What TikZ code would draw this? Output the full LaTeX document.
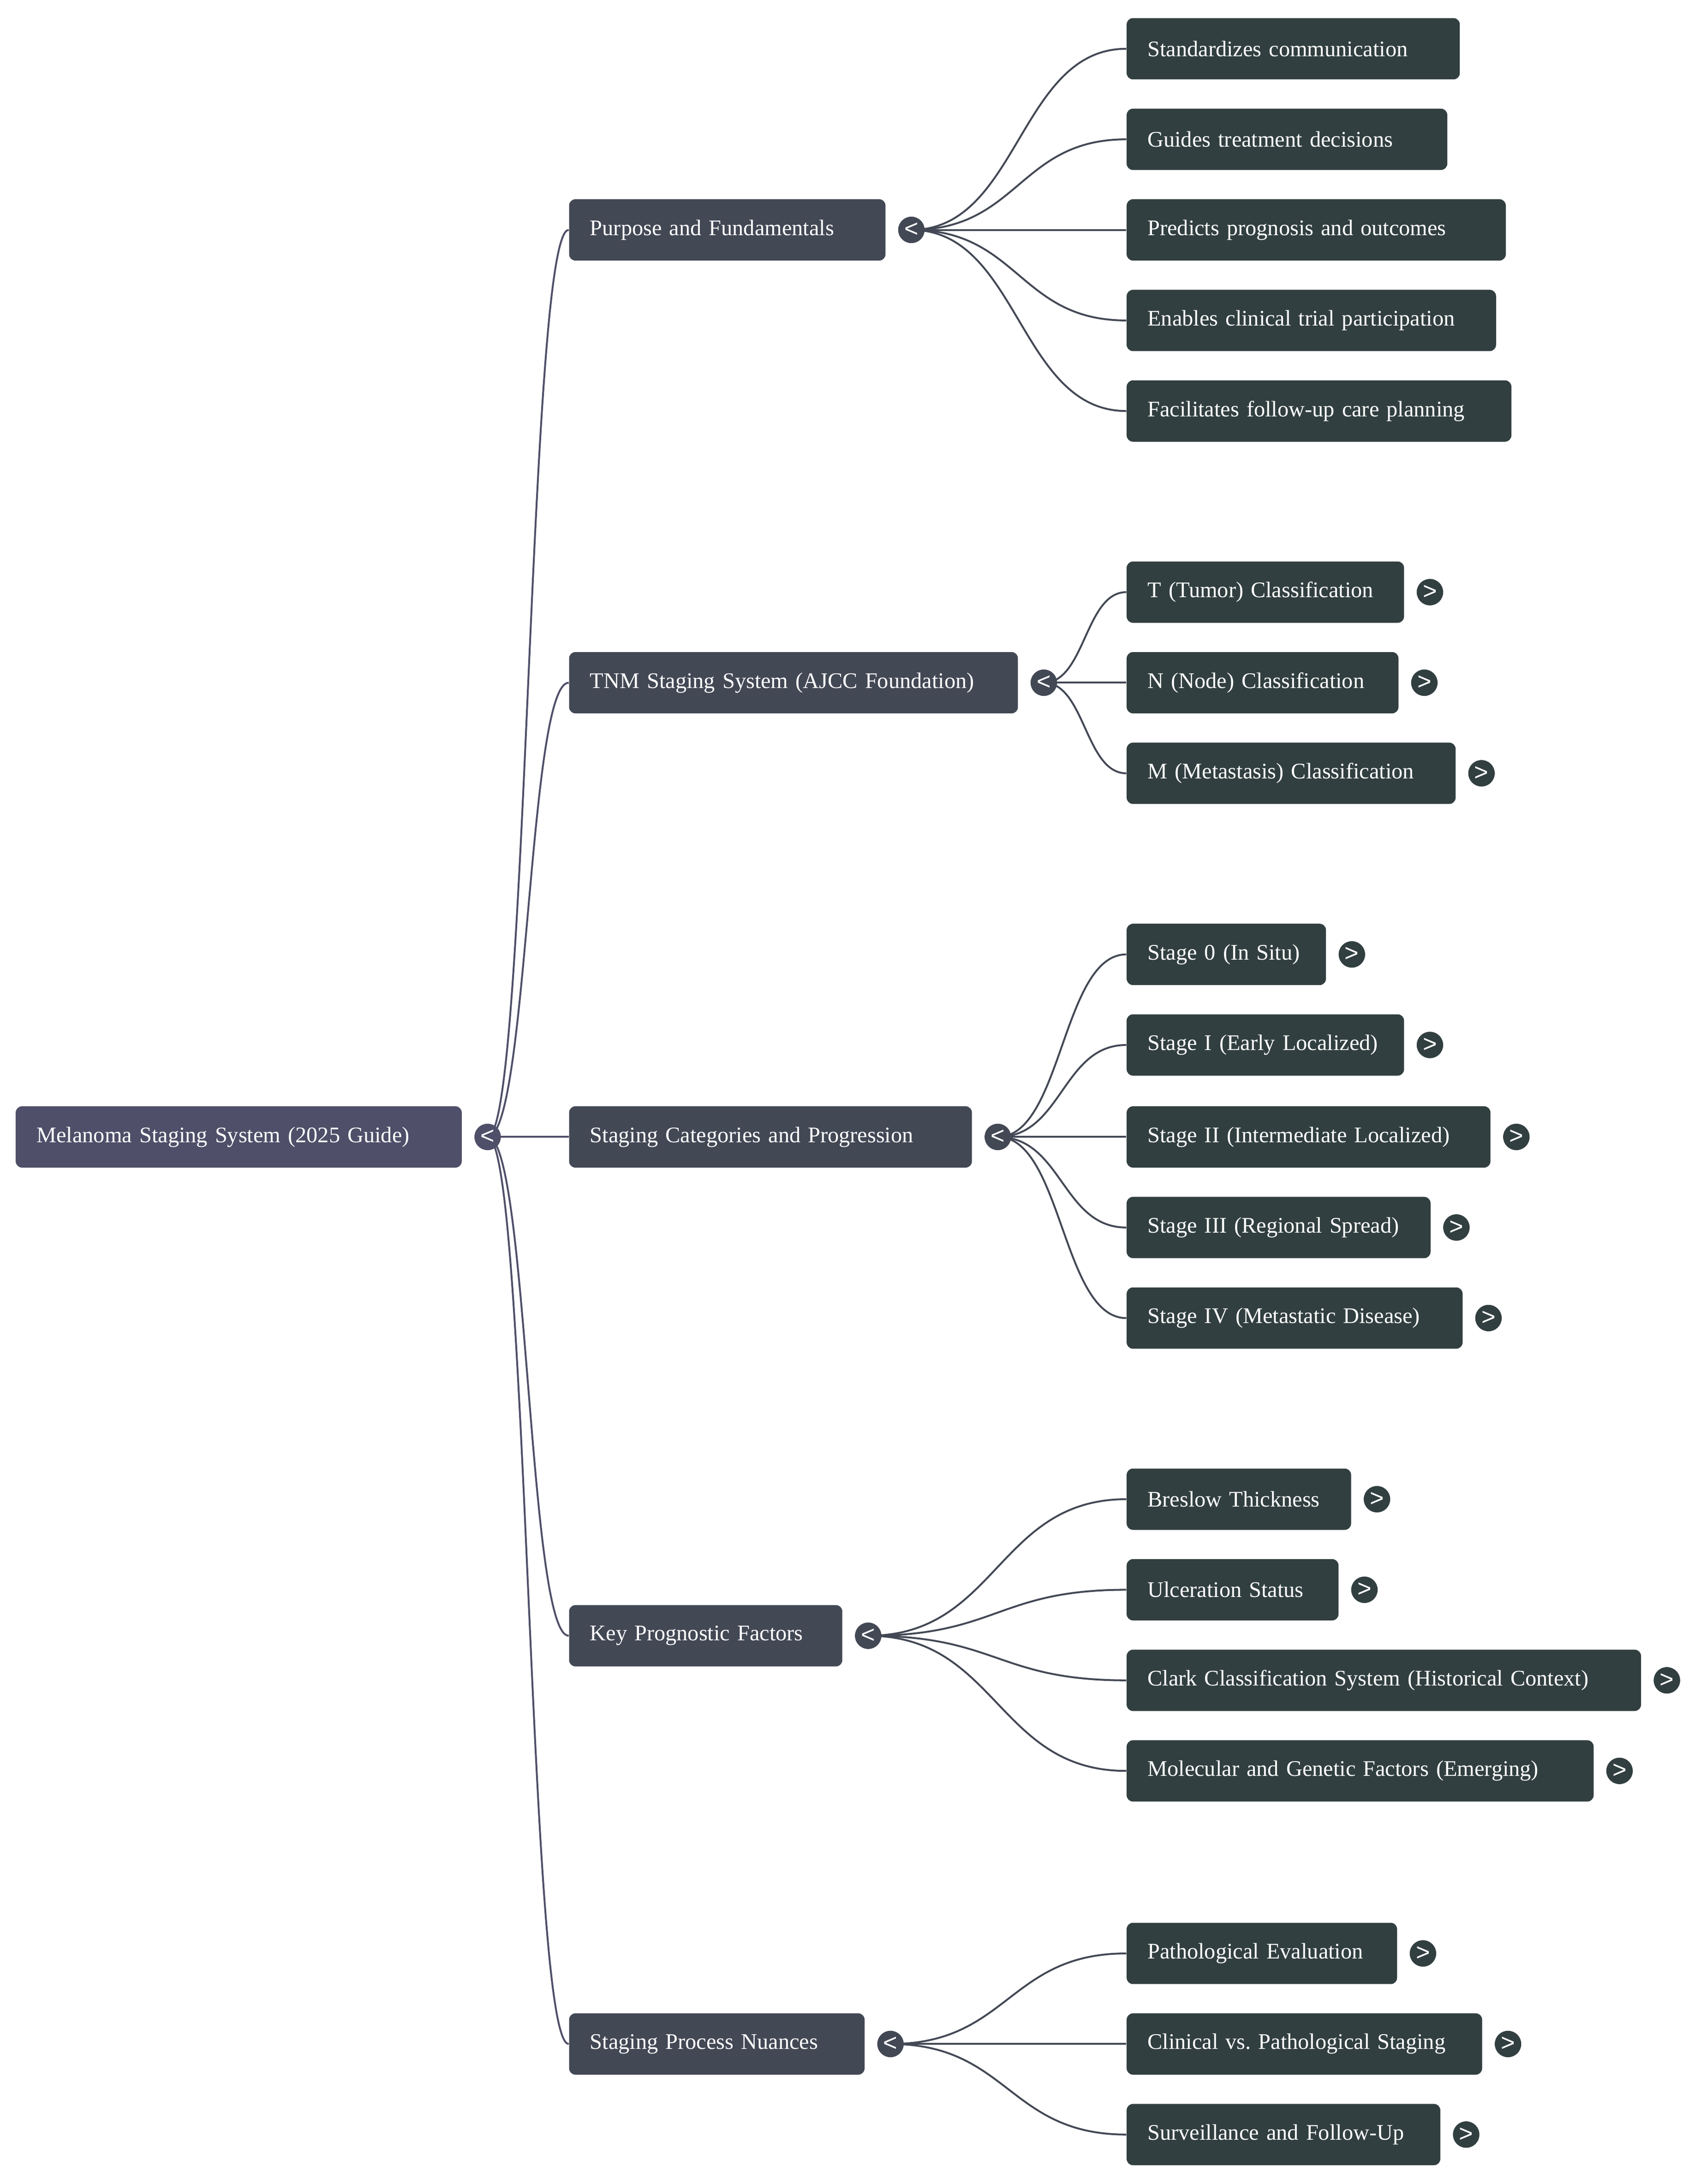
\documentclass[tikz,border=0pt]{standalone}
\usepackage{fontspec}
\setmainfont{Liberation Serif}
\newfontfamily\knobfont{Liberation Sans}
\usetikzlibrary{positioning, calc, backgrounds}
\frenchspacing

\definecolor{rootfill}{HTML}{4F4F69}
\definecolor{branchfill}{HTML}{434855}
\definecolor{leaffill}{HTML}{323F40}

\begin{document}
\begin{tikzpicture}[x=0.75pt, y=-0.75pt,
  box/.style={rectangle, rounded corners=3.4pt, text=white, anchor=west, align=left,
    minimum height=33pt, inner xsep=11.25pt, inner ysep=0pt,
    font=\fontsize{12}{14}\selectfont, text width=(#1-30)*0.75pt},
  rootbox/.style={box=#1, fill=rootfill},
  branch/.style={box=#1, fill=branchfill},
  leaf/.style={box=#1, fill=leaffill},
  knob/.style={circle, minimum size=14.25pt, inner sep=0pt, text=white,
    font=\knobfont\fontsize{13}{13}\selectfont},
  twig/.style={line width=1pt}]

\useasboundingbox (0,0) rectangle (1216,1567.5);

%Root
\node[rootbox=320] (mel) at (11,816) {Melanoma Staging System (2025 Guide)};
\node[knob, fill=rootfill, right=6.4pt of mel] (mel-k) {<};

%Branches
\node[branch=227] (pur) at (408,165) {Purpose and Fundamentals};
\node[branch=322] (tnm) at (408,490) {TNM Staging System (AJCC Foundation)};
\node[branch=289] (cat) at (408,816) {Staging Categories and Progression};
\node[branch=196] (pro) at (408,1174) {Key Prognostic Factors};
\node[branch=212] (nua) at (408,1467) {Staging Process Nuances};
\foreach \n in {pur, tnm, cat, pro, nua}
  \node[knob, fill=branchfill, right=6.4pt of \n] (\n-k) {<};

%Purpose leaves
\node[leaf=239] (std) at (808,35) {Standardizes communication};
\node[leaf=230] (gui) at (808,100) {Guides treatment decisions};
\node[leaf=272] (pre) at (808,165) {Predicts prognosis and outcomes};
\node[leaf=265] (ena) at (808,230) {Enables clinical trial participation};
\node[leaf=276] (fac) at (808,295) {Facilitates follow-up care planning};

%TNM leaves
\node[leaf=199] (tcl) at (808,425) {T (Tumor) Classification};
\node[leaf=195] (ncl) at (808,490) {N (Node) Classification};
\node[leaf=236] (mcl) at (808,555) {M (Metastasis) Classification};

%Stage leaves
\node[leaf=143] (st0) at (808,685) {Stage 0 (In Situ)};
\node[leaf=199] (st1) at (808,750) {Stage I (Early Localized)};
\node[leaf=261] (st2) at (808,816) {Stage II (Intermediate Localized)};
\node[leaf=218] (st3) at (808,881) {Stage III (Regional Spread)};
\node[leaf=241] (st4) at (808,946) {Stage IV (Metastatic Disease)};

%Prognostic leaves
\node[leaf=161] (bre) at (808,1076) {Breslow Thickness};
\node[leaf=152] (ulc) at (808,1141) {Ulceration Status};
\node[leaf=369] (cla) at (808,1206) {Clark Classification System (Historical Context)};
\node[leaf=335] (mol) at (808,1271) {Molecular and Genetic Factors (Emerging)};

%Process leaves
\node[leaf=194] (pat) at (808,1402) {Pathological Evaluation};
\node[leaf=255] (cli) at (808,1467) {Clinical vs. Pathological Staging};
\node[leaf=225] (sur) at (808,1532) {Surveillance and Follow-Up};

\foreach \n in {tcl, ncl, mcl, st0, st1, st2, st3, st4, bre, ulc, cla, mol, pat, cli, sur}
  \node[knob, fill=leaffill, right=6.4pt of \n] (\n-k) {>};

% Links
\begin{pgfonlayer}{background}
\foreach \from/\to/\col in {mel-k/pur/rootfill, mel-k/tnm/rootfill, mel-k/cat/rootfill,
    mel-k/pro/rootfill, mel-k/nua/rootfill,
    pur-k/std/branchfill, pur-k/gui/branchfill, pur-k/pre/branchfill, pur-k/ena/branchfill, pur-k/fac/branchfill,
    tnm-k/tcl/branchfill, tnm-k/ncl/branchfill, tnm-k/mcl/branchfill,
    cat-k/st0/branchfill, cat-k/st1/branchfill, cat-k/st2/branchfill, cat-k/st3/branchfill, cat-k/st4/branchfill,
    pro-k/bre/branchfill, pro-k/ulc/branchfill, pro-k/cla/branchfill, pro-k/mol/branchfill,
    nua-k/pat/branchfill, nua-k/cli/branchfill, nua-k/sur/branchfill}
  \draw[twig, draw=\col] let \p1=(\from.center), \p2=(\to.west) in
    (\p1) .. controls ({(\x1+\x2)/2},\y1) and ({(\x1+\x2)/2},\y2) .. (\p2);
\end{pgfonlayer}

\end{tikzpicture}
\end{document}
